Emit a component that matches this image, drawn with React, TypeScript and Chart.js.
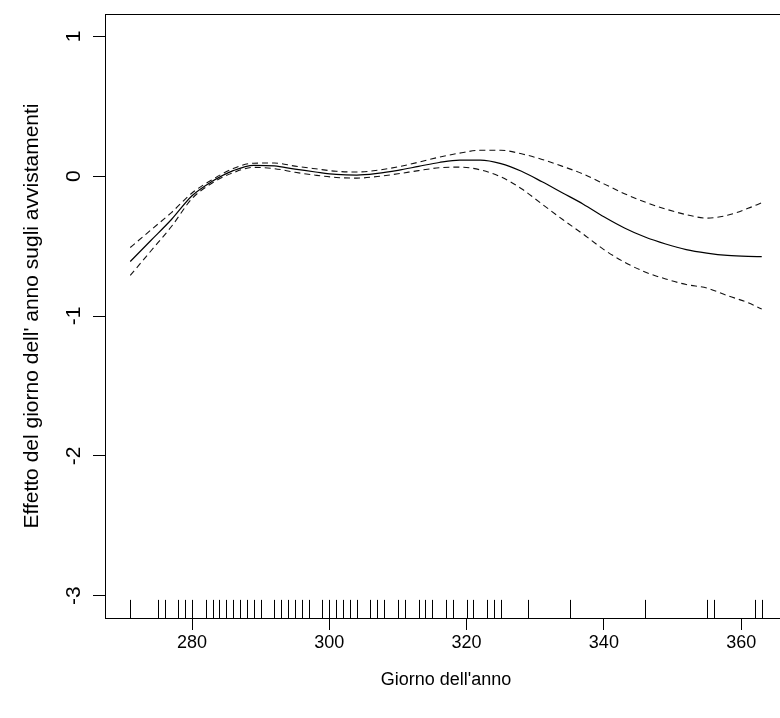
import React, { useEffect, useRef } from 'react';
import { Chart, registerables } from 'chart.js';

Chart.register(...registerables);

// Day-of-year grid along the smooth
const days = [271, 274, 277, 280, 283, 286, 289, 292, 295, 298, 301, 304, 307, 310, 313, 316, 319, 322, 325, 328, 331, 334, 337, 340, 343, 346, 349, 352, 355, 358, 361, 363];
// Estimated smooth effect
const fit = [-0.61, -0.46, -0.31, -0.14, -0.035, 0.04, 0.078, 0.074, 0.05, 0.03, 0.013, 0.008, 0.02, 0.042, 0.07, 0.098, 0.115, 0.115, 0.09, 0.035, -0.04, -0.12, -0.2, -0.29, -0.37, -0.435, -0.485, -0.525, -0.55, -0.567, -0.574, -0.575];
// Upper confidence band
const upper = [-0.51, -0.385, -0.26, -0.12, -0.023, 0.055, 0.093, 0.094, 0.072, 0.053, 0.035, 0.03, 0.042, 0.067, 0.1, 0.136, 0.165, 0.185, 0.185, 0.16, 0.12, 0.07, 0.015, -0.055, -0.125, -0.185, -0.235, -0.275, -0.3, -0.28, -0.23, -0.19];
// Lower confidence band
const lower = [-0.71, -0.535, -0.36, -0.16, -0.047, 0.025, 0.063, 0.054, 0.028, 0.007, -0.009, -0.014, -0.002, 0.017, 0.04, 0.06, 0.065, 0.045, -0.005, -0.09, -0.2, -0.31, -0.415, -0.525, -0.615, -0.685, -0.735, -0.775, -0.8, -0.854, -0.905, -0.95];
// Observed days (rug)
const rugDays = [271, 275, 276, 278, 279, 280, 282, 283, 284, 285, 286, 287, 288, 289, 290, 292, 293, 294, 295, 296, 297, 299, 300, 301, 302, 303, 304, 306, 307, 308, 310, 311, 313, 314, 315, 317, 318, 320, 321, 323, 324, 325, 329, 335, 346, 355, 356, 362, 363];

const xTicks = [280, 300, 320, 340, 360];
const yTicks = [-3, -2, -1, 0, 1];
const xTitle = "Giorno dell'anno";
const yTitle = "Effetto del giorno dell' anno sugli avvistamenti";
const xRange = [267.32, 366.68];
const yRange = [-3.16, 1.16];

const FONT = "'Liberation Sans', Arial, sans-serif";
const FSX = 18;
const FSY = 21;

const boxRugPlugin = {
  id: 'boxRug',
  afterDatasetsDraw(chart: any) {
    const { ctx, chartArea } = chart;
    const { left, top, right, bottom } = chartArea;
    const xs = chart.scales.x;
    ctx.save();
    ctx.strokeStyle = '#000';
    ctx.lineWidth = 1;
    ctx.strokeRect(Math.round(left) + 0.5, Math.round(top) + 0.5, right - left, bottom - top);
    const h = 0.03 * (bottom - top);
    ctx.beginPath();
    for (const d of rugDays) {
      const px = Math.round(xs.getPixelForValue(d)) + 0.5;
      ctx.moveTo(px, bottom);
      ctx.lineTo(px, bottom - h);
    }
    ctx.stroke();
    ctx.restore();
  },
};

export default function App() {
  const ref = useRef<HTMLCanvasElement>(null);
  useEffect(() => {
    if (!ref.current) return;
    const chart = new Chart(ref.current, {
      type: 'line',
      data: {
        datasets: [
          {
            data: days.map((d, i) => ({ x: d, y: fit[i] })),
            borderColor: '#000',
            borderWidth: 1.2,
            pointRadius: 0,
            cubicInterpolationMode: 'monotone',
            fill: false,
          },
          {
            data: days.map((d, i) => ({ x: d, y: upper[i] })),
            borderColor: '#111',
            borderWidth: 1.1,
            borderDash: [6, 4],
            pointRadius: 0,
            cubicInterpolationMode: 'monotone',
            fill: false,
          },
          {
            data: days.map((d, i) => ({ x: d, y: lower[i] })),
            borderColor: '#111',
            borderWidth: 1.1,
            borderDash: [6, 4],
            pointRadius: 0,
            cubicInterpolationMode: 'monotone',
            fill: false,
          },
        ],
      },
      options: {
        responsive: false,
        animation: false,
        devicePixelRatio: 1,
        layout: { padding: { left: 0, right: 13, top: 14, bottom: 0 } },
        plugins: { legend: { display: false }, tooltip: { enabled: false } },
        scales: {
          x: {
            type: 'linear',
            min: xRange[0],
            max: xRange[1],
            afterBuildTicks: (s: any) => { s.ticks = xTicks.map((v) => ({ value: v })); },
            afterFit: (s: any) => { s.height = 100; s.paddingLeft = 0; s.paddingRight = 0; },
            grid: { drawOnChartArea: false, drawTicks: true, tickLength: 12, color: '#000', lineWidth: 1 },
            border: { display: true, color: '#000', width: 1 },
            ticks: {
              color: '#000',
              font: { family: FONT, size: FSX },
              padding: 2,
              maxRotation: 0,
              minRotation: 0,
              callback: (v: any) => String(v),
            },
            title: {
              display: true,
              text: xTitle,
              color: '#000',
              font: { family: FONT, size: FSX },
              padding: { top: 0, bottom: 27 },
            },
          },
          y: {
            type: 'linear',
            min: yRange[0],
            max: yRange[1],
            afterBuildTicks: (s: any) => { s.ticks = yTicks.map((v) => ({ value: v })); },
            afterFit: (s: any) => { s.width = 105; s.paddingTop = 0; s.paddingBottom = 0; },
            grid: { drawOnChartArea: false, drawTicks: true, tickLength: 12, color: '#000', lineWidth: 1 },
            border: { display: true, color: '#000', width: 1 },
            ticks: {
              color: '#000',
              font: { family: FONT, size: FSY },
              padding: 9,
              minRotation: 90,
              maxRotation: 90,
              crossAlign: 'center',
              callback: (v: any) => String(v),
            },
            title: {
              display: true,
              text: yTitle,
              color: '#000',
              font: { family: FONT, size: FSY },
              padding: { top: 20, bottom: 0 },
            },
          },
        },
      },
      plugins: [boxRugPlugin],
    } as any);
    return () => chart.destroy();
  }, []);

  return (
    <div style={{ position: 'fixed', left: 0, top: 0, width: 780, height: 718, overflow: 'hidden', background: '#fff' }}>
      <canvas ref={ref} width={800} height={718} style={{ display: 'block', width: 800, height: 718 }} />
    </div>
  );
}
